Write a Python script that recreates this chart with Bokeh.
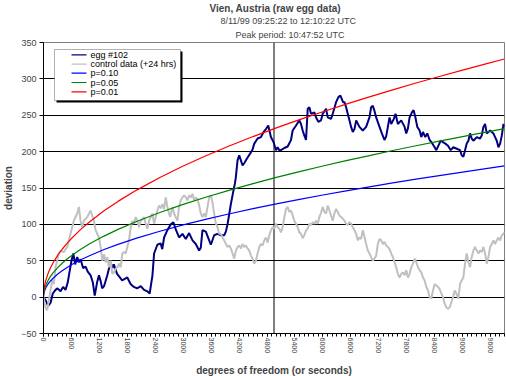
import math
from bokeh.plotting import figure
from bokeh.models import (Title, Span, BoxAnnotation, Label, SingleIntervalTicker,
                          FixedTicker, ColumnDataSource)
from bokeh.embed import file_html
from bokeh.resources import INLINE

# ---------------- data ----------------
egg_t = [0, 50, 100, 150, 200, 258, 300, 366, 420, 473, 520, 560, 600, 640, 680, 724, 760, 796, 850, 904,
         950, 1011, 1060, 1100, 1150, 1191, 1227, 1260, 1300, 1370, 1440, 1480, 1510, 1580, 1690, 1800,
         1870, 1940, 2010, 2090, 2160, 2230, 2280, 2340, 2375, 2445, 2515, 2550, 2590, 2660, 2733, 2790,
         2840, 2912, 2984, 3056, 3127, 3200, 3270, 3342, 3378, 3414, 3486, 3558, 3594, 3665, 3737, 3809,
         3880, 3916, 3952, 4024, 4081, 4110, 4131, 4167, 4203, 4239, 4275, 4311, 4347, 4383, 4454, 4490,
         4526, 4598, 4670, 4727, 4777, 4827, 4884, 4942, 4992, 5028, 5064, 5100, 5172, 5243, 5315, 5351,
         5423, 5494, 5530, 5566, 5602, 5638, 5674, 5710, 5745, 5817, 5853, 5903, 5960, 5996, 6068, 6104,
         6175, 6211, 6283, 6333, 6376, 6433, 6463, 6499, 6534, 6570, 6606, 6642, 6678, 6714, 6785, 6857,
         6929, 7000, 7036, 7072, 7108, 7144, 7216, 7266, 7323, 7359, 7395, 7431, 7467, 7524, 7560, 7610,
         7682, 7755, 7790, 7826, 7862, 7912, 7948, 7984, 8027, 8077, 8113, 8149, 8199, 8242, 8292, 8343,
         8400, 8436, 8486, 8529, 8579, 8629, 8687, 8744, 8802, 8874, 8945, 8981, 9017, 9053, 9089, 9125,
         9160, 9196, 9232, 9304, 9375, 9411, 9447, 9483, 9519, 9591, 9662, 9698, 9734, 9770, 9806, 9842,
         9878, 9900]
egg_v = [0, -5, -12, -8, 5, 10, 12, 8, 14, 10, 20, 35, 50, 60, 45, 55, 48, 52, 40, 42,
         35, 30, 20, 2, 20, 30, 22, 12, 15, 30, 48, 40, 45, 32, 23, 27,
         18, 14, 12, 15, 10, 8, 5, 30, 60, 72, 74, 66, 82, 92, 100, 103,
         93, 82, 87, 80, 88, 78, 73, 64, 68, 92, 90, 78, 72, 85, 87, 85,
         85, 90, 100, 128, 147, 156, 165, 188, 195, 188, 181, 184, 188, 192, 199, 203,
         211, 218, 220, 227, 231, 236, 220, 213, 202, 206, 202, 202, 205, 207, 216, 229,
         236, 243, 238, 229, 222, 216, 259, 261, 252, 254, 247, 241, 243, 252, 259, 247,
         245, 252, 268, 275, 277, 268, 268, 261, 252, 243, 234, 227, 231, 243, 234, 229,
         234, 247, 261, 263, 256, 247, 234, 225, 216, 221, 234, 247, 238, 245, 252, 238,
         243, 234, 225, 232, 247, 254, 257, 248, 234, 229, 220, 227, 220, 225, 216, 212,
         206, 202, 209, 215, 213, 211, 208, 202, 206, 204, 202, 195, 193, 202, 211, 215,
         225, 218, 215, 220, 218, 222, 234, 238, 225, 229, 225, 220, 215, 206, 211, 222,
         238, 234]

ctrl_t = [0, 43, 78, 114, 150, 186, 222, 258, 294, 329, 365, 437, 509, 580, 652, 724, 760, 795, 831, 867,
          939, 1010, 1082, 1118, 1190, 1227, 1263, 1299, 1335, 1370, 1406, 1442, 1478, 1514, 1550, 1585,
          1621, 1657, 1693, 1729, 1765, 1800, 1836, 1872, 1908, 1944, 1980, 2016, 2052, 2087, 2159, 2195,
          2231, 2267, 2303, 2338, 2374, 2410, 2446, 2482, 2518, 2554, 2590, 2626, 2661, 2697, 2719, 2769,
          2805, 2841, 2876, 2912, 2948, 2984, 3020, 3056, 3092, 3127, 3163, 3199, 3235, 3271, 3307, 3343,
          3378, 3414, 3450, 3486, 3522, 3558, 3594, 3629, 3665, 3701, 3737, 3773, 3809, 3845, 3881, 3917,
          3952, 3988, 4024, 4060, 4096, 4132, 4168, 4203, 4239, 4275, 4311, 4347, 4383, 4418, 4454, 4490,
          4526, 4562, 4598, 4634, 4669, 4705, 4741, 4777, 4813, 4849, 4885, 4920, 4956, 4992, 5028, 5064,
          5100, 5136, 5172, 5208, 5243, 5279, 5315, 5351, 5387, 5423, 5459, 5494, 5530, 5566, 5602, 5638,
          5674, 5710, 5745, 5781, 5817, 5853, 5889, 5925, 5960, 5996, 6032, 6068, 6104, 6140, 6175, 6211,
          6247, 6283, 6319, 6355, 6391, 6427, 6463, 6499, 6534, 6570, 6606, 6642, 6678, 6714, 6750, 6785,
          6821, 6857, 6893, 6929, 6965, 7001, 7036, 7072, 7108, 7144, 7180, 7216, 7252, 7287, 7323, 7359,
          7395, 7431, 7467, 7503, 7539, 7574, 7610, 7646, 7682, 7719, 7755, 7791, 7826, 7862, 7898, 7934,
          7970, 8006, 8042, 8077, 8113, 8149, 8185, 8221, 8257, 8292, 8328, 8364, 8400, 8436, 8472, 8508,
          8543, 8579, 8615, 8651, 8687, 8723, 8759, 8795, 8830, 8866, 8910, 8945, 8981, 9017, 9053, 9089,
          9125, 9160, 9196, 9232, 9268, 9304, 9340, 9375, 9411, 9447, 9483, 9519, 9555, 9591, 9627, 9662,
          9698, 9734, 9770, 9806, 9842, 9878, 9900]
ctrl_v = [0, -14, -18, -5, 9, 23, 18, 41, 50, 60, 64, 62, 69, 87, 105, 115, 124, 105, 96, 105,
          110, 119, 105, 92, 82, 69, 50, 59, 48, 55, 41, 50, 32, 34, 39, 41,
          46, 41, 60, 62, 60, 69, 78, 96, 105, 101, 110, 105, 96, 105, 110, 101,
          94, 105, 110, 115, 101, 110, 119, 126, 122, 128, 121, 137, 124, 115, 110, 124,
          115, 110, 105, 124, 133, 137, 140, 137, 133, 140, 137, 142, 133, 137, 135, 126,
          115, 110, 115, 110, 124, 137, 140, 130, 115, 101, 96, 87, 87, 82, 78, 73,
          69, 71, 67, 60, 53, 64, 69, 71, 67, 73, 69, 71, 67, 64, 57, 53,
          46, 50, 60, 69, 73, 71, 78, 82, 75, 85, 92, 96, 94, 101, 96, 94,
          89, 96, 110, 121, 124, 117, 119, 112, 105, 101, 96, 89, 87, 81, 85, 92,
          94, 101, 99, 103, 101, 105, 101, 110, 116, 124, 117, 115, 126, 119, 112, 105,
          115, 121, 117, 112, 110, 108, 105, 101, 99, 103, 101, 96, 92, 87, 78, 82,
          80, 92, 83, 73, 64, 60, 55, 50, 53, 57, 73, 80, 78, 73, 76, 71,
          69, 66, 60, 55, 48, 41, 32, 27, 32, 34, 30, 37, 27, 32, 41, 46,
          53, 48, 41, 37, 34, 27, 23, 14, 9, 0, -2, 9, 18, 16, 14, 11,
          5, 0, -9, -14, -16, -14, -7, 0, 9, 5, -2, 18, 23, 27, 46, 60,
          48, 41, 55, 64, 69, 64, 60, 64, 62, 69, 60, 46, 55, 69, 73, 78,
          73, 78, 82, 78, 85, 87, 89]

# significance envelopes
env_t = [1, 10, 25, 50, 100, 150, 200, 300, 400, 500, 600, 800, 1000, 1300, 1600, 2000, 2500, 3000,
         3500, 4000, 4500, 5000, 5500, 6000, 6500, 7000, 7500, 8000, 8500, 9000, 9500, 9900]
p10_v = [1.8, 5.7, 9.1, 12.8, 18.1, 22.2, 25.6, 31.4, 36.3, 40.5, 44.4, 51.3, 57.3, 65.4, 72.5, 81.1,
         90.6, 99.3, 107.2, 114.6, 121.6, 128.2, 134.4, 140.4, 146.1, 151.6, 157.0, 162.1, 167.1, 171.9,
         176.7, 180.3]
p05_v = [2.3, 7.4, 11.6, 16.5, 23.3, 28.5, 32.9, 40.3, 46.5, 52.0, 57.0, 65.8, 73.6, 83.9, 93.1, 104.0,
         116.3, 127.4, 137.6, 147.1, 156.1, 164.5, 172.5, 180.2, 187.6, 194.6, 201.5, 208.1, 214.5, 220.7,
         226.7, 231.5]
p01_v = [3.3, 10.4, 16.5, 23.3, 32.9, 40.3, 46.5, 57.0, 65.8, 73.6, 80.6, 93.1, 104.0, 118.6, 131.6, 147.1,
         164.5, 180.2, 194.6, 208.1, 220.7, 232.6, 244.0, 254.8, 265.2, 275.3, 284.9, 294.3, 303.3, 312.1,
         320.7, 327.3]

peak_t = 4950  # 10:47:52 relative to 09:25:22

title_main = "Vien, Austria  (raw egg data)"
title_sub1 = "8/11/99 09:25:22 to 12:10:22 UTC"
title_sub2 = "Peak period: 10:47:52 UTC"
legend_labels = ["egg #102", "control data (+24 hrs)", "p=0.10", "p=0.05", "p=0.01"]
colors = ["#000080", "#C0C0C0", "#0000FF", "#008000", "#FF0000"]

FONT = "Liberation Sans"

p = figure(frame_width=461, frame_height=291, x_range=(0, 9900), y_range=(-50, 350),
           output_backend="svg", toolbar_location=None, title=None,
           min_border_left=33, min_border_right=2, min_border_top=34, min_border_bottom=43)
p.outline_line_color = "#808080"
p.background_fill_color = "white"
p.border_fill_color = "white"

# titles (added from the plot outwards)
p.add_layout(Title(text=title_sub2, text_font=FONT, text_font_size="9px", text_font_style="normal",
                   align="left", offset=192, standoff=5), "above")
p.add_layout(Title(text=title_sub1, text_font=FONT, text_font_size="9px", text_font_style="normal",
                   align="left", offset=177, standoff=0), "above")
p.add_layout(Title(text=title_main, text_font=FONT, text_font_size="10px", text_font_style="bold",
                   align="left", offset=166, standoff=0), "above")

# axes
xa = p.xaxis[0]
xa.ticker = SingleIntervalTicker(interval=600, num_minor_ticks=6)
xa.major_label_orientation = "vertical"
xa.major_label_text_font = FONT
xa.major_label_text_font_size = "7px"
xa.major_label_standoff = 1
xa.major_tick_in = 0
xa.major_tick_out = 3
xa.minor_tick_in = 0
xa.minor_tick_out = 3
xa.axis_label = "degrees of freedom (or seconds)"
xa.axis_label_text_font = FONT
xa.axis_label_text_font_size = "10px"
xa.axis_label_text_font_style = "bold"
xa.axis_label_standoff = 9
xa.axis_line_color = "black"

ya = p.yaxis[0]
ya.ticker = SingleIntervalTicker(interval=50, num_minor_ticks=0)
ya.major_label_text_font = FONT
ya.major_label_text_font_size = "9px"
ya.major_label_standoff = 3
ya.major_tick_in = 0
ya.major_tick_out = 4
ya.minor_tick_line_color = None
ya.axis_label = "deviation"
ya.axis_label_text_font = FONT
ya.axis_label_text_font_size = "10px"
ya.axis_label_text_font_style = "bold"
ya.axis_label_standoff = 4

p.xgrid.grid_line_color = None
p.ygrid.ticker = FixedTicker(ticks=[0, 50, 100, 150, 200, 250, 300])
p.ygrid.grid_line_color = "black"
p.ygrid.grid_line_width = 1

p.add_layout(Span(location=peak_t, dimension="height", line_color="black", line_width=1, level="underlay"))

# series
p.line(egg_t, egg_v, line_color=colors[0], line_width=2)
p.line(ctrl_t, ctrl_v, line_color=colors[1], line_width=2)
p.line(env_t, p10_v, line_color=colors[2], line_width=1.2)
p.line(env_t, p05_v, line_color=colors[3], line_width=1.2)
p.line(env_t, p01_v, line_color=colors[4], line_width=1.2)

# legend box (screen units relative to the frame) with shadow
p.add_layout(BoxAnnotation(left=13, right=139, top=282, bottom=231,
                           left_units="screen", right_units="screen", top_units="screen", bottom_units="screen",
                           fill_color="black", fill_alpha=1, line_color=None))
p.add_layout(BoxAnnotation(left=11, right=137, top=284, bottom=233,
                           left_units="screen", right_units="screen", top_units="screen", bottom_units="screen",
                           fill_color="white", fill_alpha=1, line_color="black", line_width=1))
row_y = [278.7, 269.3, 260.3, 251.0, 241.7]
for lab, col, yy in zip(legend_labels, colors, row_y):
    p.add_layout(BoxAnnotation(left=28, right=43, top=yy + 0.6, bottom=yy - 0.6,
                               left_units="screen", right_units="screen", top_units="screen",
                               bottom_units="screen", fill_color=col, fill_alpha=1, line_color=None))
    p.add_layout(Label(x=47, y=yy, x_units="screen", y_units="screen", text=lab, text_font=FONT,
                       text_font_size="9px", text_baseline="middle", text_align="left", text_color="black"))

open("out.html", "w").write(file_html(p, INLINE))
